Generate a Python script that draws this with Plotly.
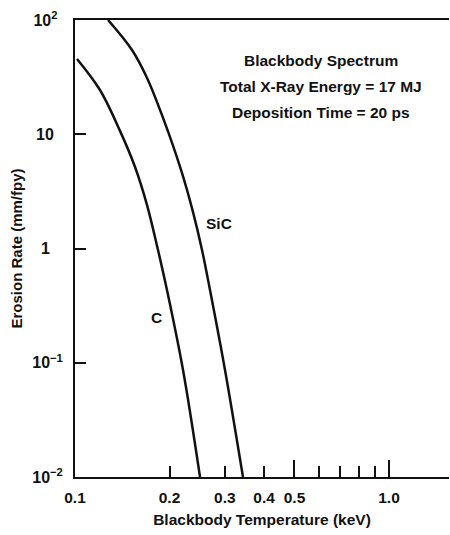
import plotly.graph_objects as go

# Data (keV, mm/fpy)
c_temp = [0.1015, 0.1201, 0.1391, 0.1553, 0.1696, 0.1838, 0.1963, 0.2208, 0.2501]
c_rate = [45.6, 24.4, 10.7, 5.17, 2.40, 0.970, 0.433, 0.0864, 0.0100]

sic_temp = [0.1274, 0.1519, 0.1696, 0.1907, 0.2176, 0.2375, 0.2538, 0.2691, 0.3004, 0.3427]
sic_rate = [100.0, 54.6, 31.1, 13.9, 4.87, 2.09, 0.970, 0.433, 0.0864, 0.0100]

x_tickvals = [0.1, 0.2, 0.3, 0.4, 0.5, 1.0]
x_ticktext = ["0.1", "0.2", "0.3", "0.4", "0.5", "1.0"]
x_minor = [0.6, 0.7, 0.8, 0.9]
x_long = [0.5, 1.0]
y_tickvals = [100, 10, 1, 0.1, 0.01]
F = "\u2007"
y_ticktext = ["10<sup>2</sup>" + "\u2004", "10" + F, "1" + F + "\u2005",
              "10<sup>−1</sup>", "10<sup>−2</sup>"]

notes = ["Blackbody Spectrum", "Total X-Ray Energy = 17 MJ", "Deposition Time = 20 ps"]

ink = "#111111"
FONT = "Liberation Sans, Arial, sans-serif"

fig = go.Figure()
fig.add_trace(go.Scatter(x=c_temp, y=c_rate, mode="lines", line=dict(color=ink, width=2.5),
                         line_shape="spline", showlegend=False, hoverinfo="skip"))
fig.add_trace(go.Scatter(x=sic_temp, y=sic_rate, mode="lines", line=dict(color=ink, width=2.5),
                         line_shape="spline", showlegend=False, xaxis="x2", hoverinfo="skip"))

xr = [-1, 0.191]
fig.update_layout(
    width=450, height=535,
    margin=dict(l=75, r=1, t=20, b=58),
    paper_bgcolor="white", plot_bgcolor="white",
    font=dict(family=FONT, size=16, color=ink, weight="bold"),
    xaxis=dict(type="log", range=xr, showgrid=False, zeroline=False, automargin=False,
               showline=True, linecolor=ink, linewidth=2, mirror=True,
               tickmode="array", tickvals=x_tickvals, ticktext=x_ticktext,
               ticks="inside", ticklen=11, tickwidth=2, tickcolor=ink,
               ticklabelstandoff=5, tickfont=dict(size=15.5),
               minor=dict(tickmode="array", tickvals=x_minor, ticks="inside",
                          ticklen=11, tickwidth=2, tickcolor=ink, showgrid=False),
               title=dict(text="Blackbody Temperature (keV)", standoff=10,
                          font=dict(size=15.5))),
    xaxis2=dict(type="log", range=xr, matches="x", overlaying="x", anchor="y",
                side="bottom", showgrid=False, zeroline=False, showline=False,
                automargin=False,
                tickmode="array", tickvals=x_long, showticklabels=False,
                ticks="inside", ticklen=17, tickwidth=2, tickcolor=ink),
    yaxis=dict(type="log", range=[-2, 2], showgrid=False, zeroline=False, automargin=False,
               showline=True, linecolor=ink, linewidth=2,
               tickmode="array", tickvals=y_tickvals, ticktext=y_ticktext,
               ticks="inside", ticklen=11, tickwidth=2, tickcolor=ink,
               ticklabelstandoff=7, tickfont=dict(size=16),
               title=dict(text="Erosion Rate (mm/fpy)", standoff=6,
                          font=dict(size=15))),
)

for i, t in enumerate(notes):
    fig.add_annotation(text=t, xref="paper", yref="paper", x=0.658,
                       y=1 - (40 + 26 * i) / 457.0, showarrow=False,
                       xanchor="center", yanchor="middle", font=dict(size=15.5))

fig.add_annotation(text="SiC", x=-0.541, y=0.223, xref="x", yref="y",
                   showarrow=False, font=dict(size=15.5))
fig.add_annotation(text="C", x=-0.739, y=-0.6, xref="x", yref="y",
                   showarrow=False, font=dict(size=15.5))

fig.write_html("out.html", config={"displayModeBar": False},
               post_script="document.body.style.margin='0';document.body.style.overflow='hidden';")
